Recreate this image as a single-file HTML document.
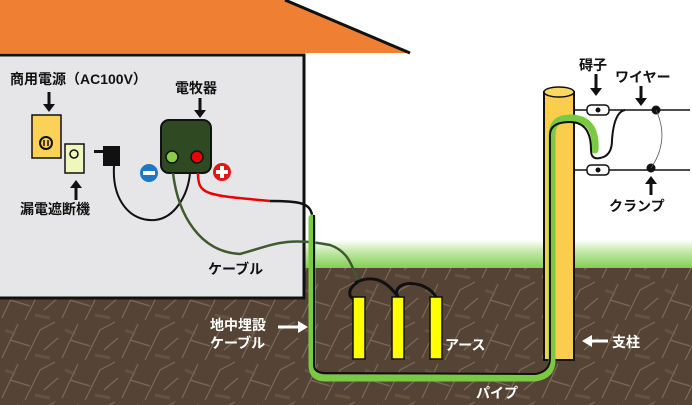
<!DOCTYPE html>
<html><head><meta charset="utf-8"><style>
html,body{margin:0;padding:0;background:#fff}
svg{display:block}
text{font-family:"Liberation Sans","Noto Sans CJK JP",sans-serif;font-weight:bold}
</style></head><body>
<svg width="692" height="405" viewBox="0 0 692 405" xmlns="http://www.w3.org/2000/svg">
<defs>
<linearGradient id="g" x1="0" y1="0" x2="0" y2="1">
<stop offset="0" stop-color="#fff"/><stop offset="0.35" stop-color="#c8eab0"/><stop offset="1" stop-color="#7acc48"/>
</linearGradient>
<pattern id="soil" width="60" height="40" patternUnits="userSpaceOnUse">
<rect width="60" height="40" fill="#554435"/>
<path d="M2 38 L18 4 M25 40 L40 10 L55 2 M10 20 L30 26 M44 30 L58 18" stroke="#8a7a66" stroke-width="1.2" fill="none" opacity="0.7"/>
<path d="M5 10 L15 14 M35 35 L50 38" stroke="#6e5d4b" stroke-width="3" fill="none" opacity="0.6"/>
</pattern>
</defs>
<rect x="300" y="240" width="392" height="30" fill="url(#g)"/>
<rect x="0" y="268" width="692" height="137" fill="url(#soil)"/>
<!-- roof -->
<polygon points="0,0 285,0 410,53 0,53" fill="#ee7f33"/>
<line x1="285" y1="0" x2="410" y2="53" stroke="#111" stroke-width="3"/>
<!-- house -->
<rect x="-3" y="55" width="307" height="243" fill="#e6e6e8" stroke="#111" stroke-width="3"/>
<!-- outlet -->
<rect x="32" y="115" width="29" height="43" fill="#fbd257" stroke="#111" stroke-width="1.5"/>
<circle cx="46" cy="143" r="6" fill="none" stroke="#111" stroke-width="2"/>
<line x1="44" y1="140" x2="44" y2="146" stroke="#111" stroke-width="1.5"/><line x1="48" y1="140" x2="48" y2="146" stroke="#111" stroke-width="1.5"/>
<rect x="65" y="144" width="19" height="29" fill="#f0f7bc" stroke="#111" stroke-width="1.5"/>
<circle cx="74" cy="154" r="4" fill="none" stroke="#111" stroke-width="1.5"/>
<!-- plug -->
<rect x="103" y="146" width="17" height="20" fill="#111"/>
<rect x="94" y="150" width="10" height="3" fill="#111"/>
<path d="M114 166 C112 200 130 222 155 220 C175 218 188 195 190 173" fill="none" stroke="#111" stroke-width="2"/>
<!-- energizer -->
<rect x="161" y="120" width="50" height="53" rx="8" fill="#2f4a22" stroke="#111" stroke-width="2"/>
<circle cx="172" cy="157" r="6" fill="#8ccb4a" stroke="#111" stroke-width="1.5"/>
<circle cx="197" cy="157" r="6" fill="#e00" stroke="#111" stroke-width="1.5"/>
<circle cx="149" cy="173" r="9" fill="#1e78c8"/><rect x="143" y="171" width="12" height="4" fill="#fff"/>
<circle cx="222" cy="172" r="9" fill="#e01818"/><rect x="216" y="170" width="12" height="4" fill="#fff"/><rect x="220" y="166" width="4" height="12" fill="#fff"/>
<!-- red/black wire -->
<path d="M198 173 C198 195 205 195 270 201" fill="none" stroke="#e00" stroke-width="2.5"/>
<path d="M270 201 C300 201 310 203 312 215 L314 370" fill="none" stroke="#111" stroke-width="2.5"/>
<!-- green cable -->
<path d="M173 173 C178 215 200 252 240 254 C270 246 285 236 330 245 C350 252 352 268 358 280" fill="none" stroke="#3f5a2e" stroke-width="2.5"/>
<!-- pole -->
<rect x="544" y="92" width="30" height="268" fill="#fbcd4c" stroke="#111" stroke-width="2"/>
<ellipse cx="559" cy="92" rx="15" ry="5" fill="#fbd864" stroke="#111" stroke-width="1.5"/>
<!-- pipe -->
<path d="M312 218 L312 365 Q312 378 325 378 L535 378 Q552 376 552 360 L552 135 Q552 118 570 118 Q597 118 595 150" fill="none" stroke="#7ac943" stroke-width="7" stroke-linecap="round"/>
<path d="M314 215 L314 365 Q314 373 326 373 L535 374 Q550 372 550 358 L550 135 Q550 122 570 122 Q591 122 591 150 Q591 160 600 158 Q612 156 612 140 Q614 112 625 110" fill="none" stroke="#111" stroke-width="2"/>
<!-- wires -->
<line x1="574" y1="110" x2="690" y2="110" stroke="#111" stroke-width="1.5"/>
<line x1="574" y1="170" x2="690" y2="170" stroke="#111" stroke-width="1.5"/>
<rect x="587" y="105" width="22" height="10" rx="4" fill="#fff" stroke="#111" stroke-width="1.5"/><circle cx="598" cy="110" r="2.5" fill="#111"/>
<rect x="587" y="165" width="22" height="10" rx="4" fill="#fff" stroke="#111" stroke-width="1.5"/><circle cx="598" cy="170" r="2.5" fill="#111"/>
<circle cx="656" cy="110" r="4.5" fill="#111"/><circle cx="651" cy="168" r="4.5" fill="#111"/>
<path d="M656 110 Q670 140 651 168" fill="none" stroke="#555" stroke-width="0.8"/>
<!-- earth rods -->
<path d="M358 282 C345 290 350 300 355 298 M355 283 C370 275 385 278 398 297 M398 297 C390 280 425 278 436 297" fill="none" stroke="#111" stroke-width="3"/>
<rect x="353" y="297" width="12" height="62" fill="#ff0" stroke="#111" stroke-width="1.5"/>
<rect x="392" y="297" width="12" height="62" fill="#ff0" stroke="#111" stroke-width="1.5"/>
<rect x="430" y="297" width="12" height="62" fill="#ff0" stroke="#111" stroke-width="1.5"/>
<!-- arrows -->
<g stroke="#111" stroke-width="3"><line x1="49" y1="92" x2="49" y2="106"/><line x1="200" y1="98" x2="200" y2="112"/><line x1="76" y1="187" x2="76" y2="200"/><line x1="596" y1="74" x2="596" y2="90"/><line x1="641" y1="86" x2="641" y2="100"/><line x1="651" y1="183" x2="651" y2="195"/></g>
<g fill="#111"><polygon points="43,104 55,104 49,112"/><polygon points="194,110 206,110 200,118"/><polygon points="70,188 82,188 76,180"/><polygon points="590,88 602,88 596,96"/><polygon points="635,98 647,98 641,106"/><polygon points="645,184 657,184 651,176"/></g>
<g stroke="#fff" stroke-width="3"><line x1="278" y1="327" x2="300" y2="327"/><line x1="590" y1="341" x2="608" y2="341"/></g>
<g fill="#fff"><polygon points="298,321 308,327 298,333"/><polygon points="592,335 582,341 592,347"/></g>
<!-- labels -->
<g font-size="14" fill="#111">
<text x="10" y="84">商用電源（AC100V）</text>
<text x="175" y="93">電牧器</text>
<text x="20" y="214">漏電遮断機</text>
<text x="208" y="274">ケーブル</text>
<text x="579" y="70">碍子</text>
<text x="615" y="82">ワイヤー</text>
<text x="609" y="211">クランプ</text>
</g>
<g font-size="14" fill="#fff">
<text x="210" y="330">地中埋設</text>
<text x="210" y="348">ケーブル</text>
<text x="445" y="350">アース</text>
<text x="612" y="347">支柱</text>
<text x="476" y="398">パイプ</text>
</g>
</svg>
</body></html>
